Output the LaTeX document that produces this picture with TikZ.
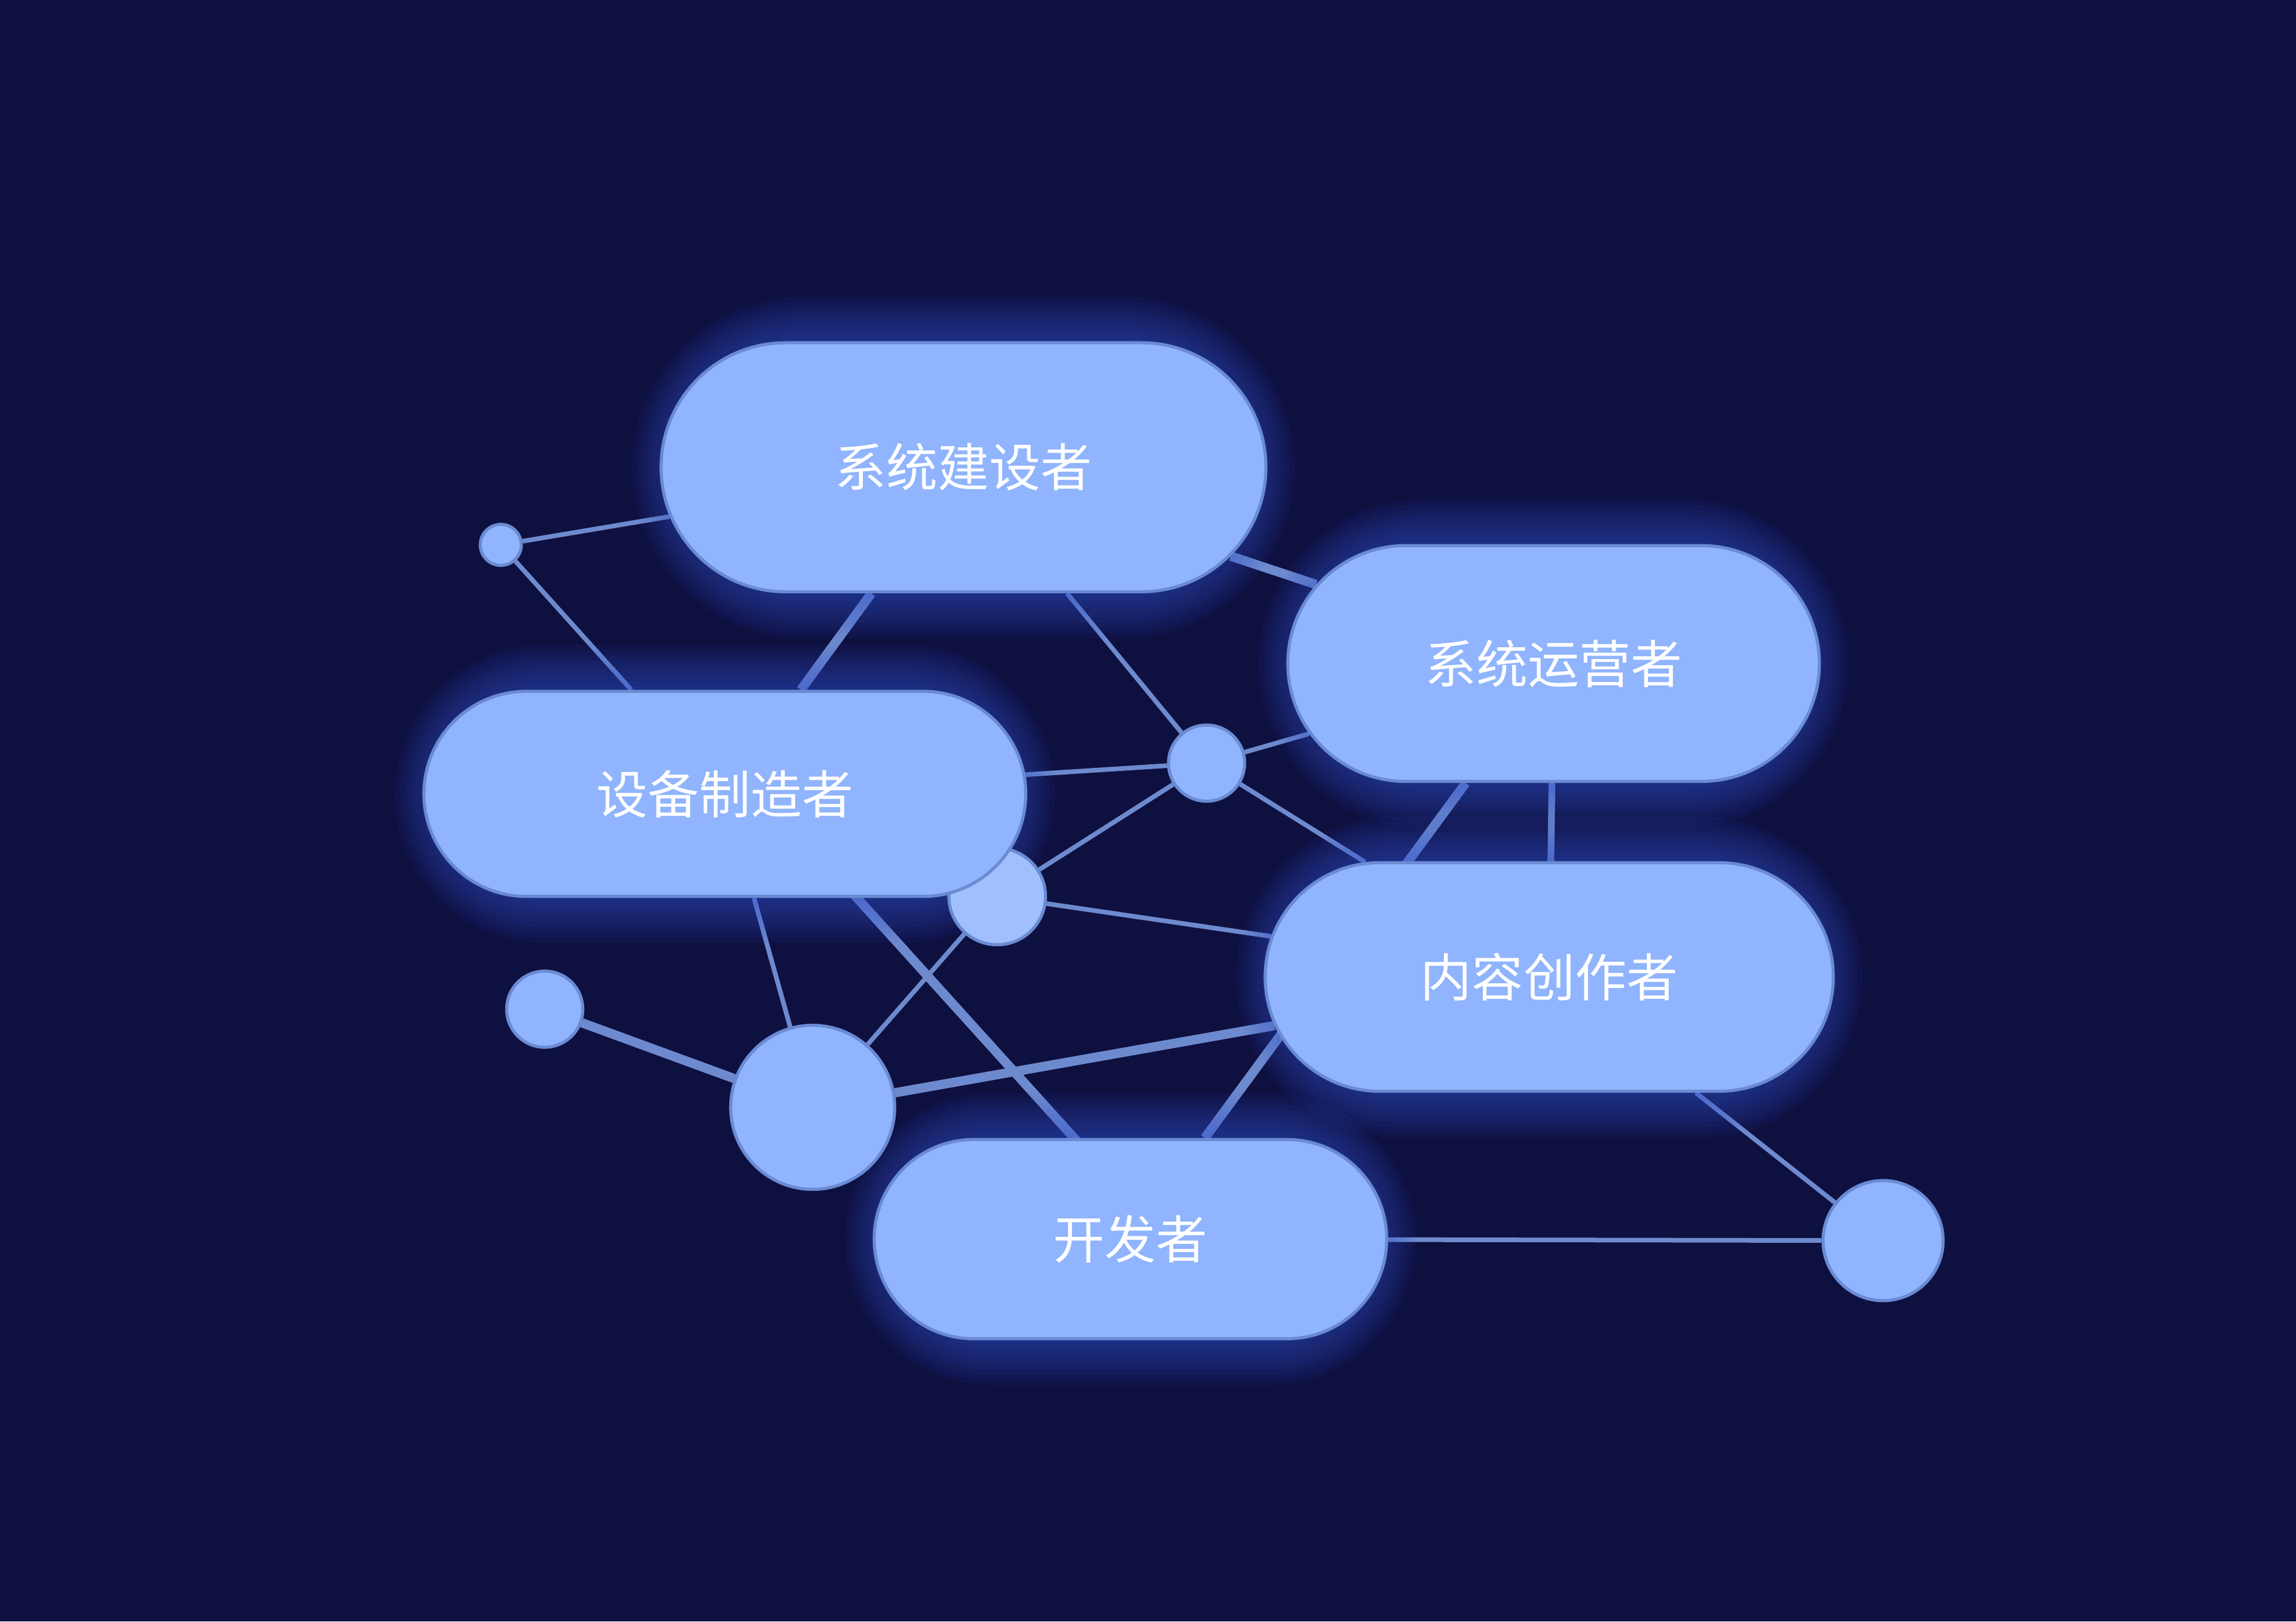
\documentclass[tikz,border=0pt]{standalone}
\usepackage{fontspec}
\newfontfamily\cjk{Noto Sans CJK SC}
\usetikzlibrary{shapes.misc}
\definecolor{bgnavy}{HTML}{0E1040}
\definecolor{pillblue}{HTML}{90B4FD}
\definecolor{pillrim}{HTML}{6A8BD4}
\definecolor{linkblue}{HTML}{6E8ACE}
\definecolor{glowblue}{HTML}{3153CC}
\pgfdeclarelayer{back}
\pgfdeclarelayer{links}
\pgfdeclarelayer{halo}
\pgfsetlayers{back,links,halo,main}
\tikzset{
  pill/.style={rounded rectangle, inner sep=0pt, fill=pillblue, draw=pillrim, line width=0.6pt,
    text=white, font=\cjk\fontsize{10}{12}\selectfont},
  dot/.style={circle, inner sep=0pt, fill=pillblue, draw=pillrim, line width=0.6pt},
  link/.style={draw=linkblue, line width=0.9pt},
  thick link/.style={draw=linkblue, line width=1.8pt}
}
% role: name, position, width, height, text
\newcommand\role[5]{%
  \begin{pgfonlayer}{halo}
    \foreach \w in {2,4,...,18}
      \node [rounded rectangle, minimum width=#3, minimum height=#4, draw=glowblue,
        line width=\w pt, draw opacity=0.075] at (#2) {};
  \end{pgfonlayer}
  \node [pill, minimum width=#3, minimum height=#4] (#1) at (#2) {#5};}

\begin{document}
\begin{tikzpicture}[x=0.1mm, y=-0.1mm]
\begin{pgfonlayer}{back}
\fill [bgnavy] (0,0) rectangle (1568,1107);
\end{pgfonlayer}
% small dots
\node [dot, minimum size=2.8mm] (d1) at (342,372) {};
\node [dot, minimum size=5.2mm] (d2) at (824,521) {};
\node [dot, minimum size=6.6mm, fill=pillblue!85!white] (d3) at (681,612) {};
\node [dot, minimum size=5.2mm] (d4) at (372,689) {};
\node [dot, minimum size=11.2mm] (d5) at (555,756) {};
\node [dot, minimum size=8.2mm] (d6) at (1286,847) {};
% roles
\role{builder}{658,319}{41.3mm}{17mm}{系统建设者}
\role{operator}{1061,453}{36.3mm}{16.1mm}{系统运营者}
\role{maker}{495,542}{41.1mm}{14mm}{设备制造者}
\role{creator}{1058,667}{38.8mm}{15.6mm}{内容创作者}
\role{developer}{772,846}{35mm}{13.6mm}{开发者}
% links
\begin{pgfonlayer}{links}
\draw [link] (d1) -- (builder);
\draw [link] (d1) -- (maker);
\draw [thick link] (builder) -- (maker);
\draw [link] (builder) -- (d2);
\draw [thick link] (builder) -- (operator);
\draw [link] (maker) -- (d2);
\draw [link] (d2) -- (operator);
\draw [link] (d2) -- (creator);
\draw [link] (d2) -- (d3);
\draw [link] (d3) -- (creator);
\draw [link] (d3) -- (d5);
\draw [link] (maker) -- (d5);
\draw [thick link] ([xshift=2.6mm]maker.center) -- ([xshift=2.4mm]developer.center);
\draw [thick link] (d4) -- (d5);
\draw [thick link] (d5) -- (creator);
\draw [line width=1.3pt, linkblue] (operator) -- (creator);
\draw [thick link] (operator) -- (developer);
\draw [link] (creator) -- (d6);
\draw [link] (developer) -- (d6);
\end{pgfonlayer}
\end{tikzpicture}
\end{document}
